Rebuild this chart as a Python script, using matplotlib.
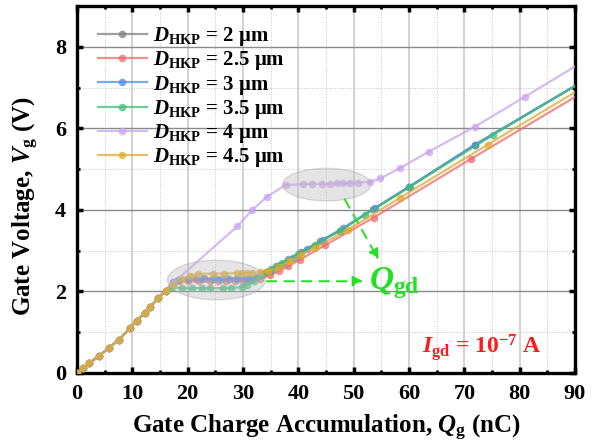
import matplotlib
matplotlib.use("Agg")
import matplotlib.pyplot as plt
from matplotlib.patches import Ellipse
from matplotlib.ticker import MultipleLocator

plt.rcParams['font.family'] = ['Liberation Serif', 'DejaVu Serif']
plt.rcParams['font.weight'] = 'bold'
plt.rcParams['mathtext.fontset'] = 'custom'
plt.rcParams['mathtext.rm'] = 'Liberation Serif:bold'
plt.rcParams['mathtext.it'] = 'Liberation Serif:bold:italic'
plt.rcParams['mathtext.bf'] = 'Liberation Serif:bold'

# ---- data (Qg in nC, Vg in V) ----
rise_x = [0, 1.1, 2.2, 4.0, 5.8, 7.6, 9.6, 10.8, 12.2, 13.2, 14.7, 16.0]
rise_y = [0, 0.12, 0.24, 0.42, 0.62, 0.82, 1.10, 1.28, 1.47, 1.62, 1.83, 2.02]

gray_x = rise_x + [17.3, 18.5, 20.0, 21.5, 23.0, 25.0, 27.0, 29.0, 31.0, 32.5, 34.2, 36.0, 38.2, 40.5, 44.0, 47.5, 53.5, 60.0, 72.0, 92.0]
gray_y = rise_y + [2.20, 2.29, 2.31, 2.31, 2.32, 2.32, 2.32, 2.32, 2.33, 2.36, 2.48, 2.62, 2.79, 2.97, 3.24, 3.49, 4.02, 4.57, 5.60, 7.20]

red_x = rise_x + [17.3, 18.5, 20.0, 22.0, 24.0, 25.5, 27.0, 28.5, 30.0, 31.5, 33.0, 34.8, 36.5, 38.2, 40.3, 44.8, 53.6, 71.2, 92.0]
red_y = rise_y + [2.18, 2.25, 2.25, 2.25, 2.25, 2.25, 2.26, 2.26, 2.26, 2.27, 2.30, 2.40, 2.50, 2.62, 2.78, 3.13, 3.81, 5.25, 6.93]

blue_x = rise_x + [17.3, 18.3, 20.0, 22.5, 24.5, 26.0, 27.5, 29.0, 30.5, 32.0, 33.5, 35.0, 36.7, 39.0, 41.5, 44.4, 48.0, 53.9, 60.0, 71.9, 92.0]
blue_y = rise_y + [2.22, 2.29, 2.30, 2.30, 2.30, 2.30, 2.31, 2.31, 2.31, 2.33, 2.42, 2.53, 2.66, 2.83, 3.03, 3.26, 3.55, 4.04, 4.56, 5.60, 7.20]

green_x = rise_x + [17.1, 18.9, 20.7, 22.5, 24.0, 26.4, 27.9, 29.8, 30.8, 31.9, 33.5, 35.0, 37.0, 40.0, 43.0, 47.5, 52.0, 60.1, 75.2, 92.0]
green_y = rise_y + [2.10, 2.08, 2.08, 2.08, 2.08, 2.08, 2.09, 2.10, 2.17, 2.26, 2.41, 2.54, 2.70, 2.91, 3.15, 3.48, 3.88, 4.56, 5.84, 7.20]

purple_x = rise_x + [17.3, 29.0, 31.6, 34.3, 37.7, 40.9, 42.5, 44.2, 45.7, 46.9, 48.0, 49.3, 50.7, 53.0, 54.8, 58.3, 63.6, 71.9, 81.0, 92.0]
purple_y = rise_y + [2.20, 3.60, 3.99, 4.32, 4.61, 4.63, 4.64, 4.64, 4.64, 4.65, 4.65, 4.66, 4.67, 4.69, 4.77, 5.02, 5.43, 6.04, 6.78, 7.68]

orange_x = rise_x + [17.3, 19.0, 20.5, 21.9, 24.6, 26.5, 28.9, 29.8, 30.8, 31.7, 33.1, 34.6, 36.5, 38.5, 40.5, 43.0, 48.9, 58.3, 74.2, 92.0]
orange_y = rise_y + [2.16, 2.30, 2.38, 2.43, 2.44, 2.44, 2.45, 2.45, 2.45, 2.46, 2.47, 2.49, 2.60, 2.75, 2.90, 3.07, 3.51, 4.29, 5.60, 7.05]

labels = [r'$D_{\rm HKP}$ = 2 μm', r'$D_{\rm HKP}$ = 2.5 μm', r'$D_{\rm HKP}$ = 3 μm',
          r'$D_{\rm HKP}$ = 3.5 μm', r'$D_{\rm HKP}$ = 4 μm', r'$D_{\rm HKP}$ = 4.5 μm']
colors = ['#7f7f7f', '#f06a6a', '#4a8fe7', '#3dbe7a', '#c9a3ee', '#ddaa2c']

xticks = [0, 10, 20, 30, 40, 50, 60, 70, 80, 90]
yticks = [0, 2, 4, 6, 8]

series = [(gray_x, gray_y), (red_x, red_y), (blue_x, blue_y), (green_x, green_y),
          (purple_x, purple_y), (orange_x, orange_y)]

fig = plt.figure(figsize=(6.02, 4.45), dpi=100)
ax = fig.add_axes([77/602, 1-373/445, 498/602, 367/445])

for (xs, ys), c, lab in zip(series, colors, labels):
    ax.plot(xs, ys, '-o', color=c, alpha=0.75, lw=1.6, ms=5.5, mec='none', label=lab, zorder=3)

ax.set_xlim(0, 90)
ax.set_ylim(0, 9)
ax.set_xticks(xticks)
ax.set_yticks(yticks)
ax.xaxis.set_minor_locator(MultipleLocator(5))
ax.yaxis.set_minor_locator(MultipleLocator(1))

ax.grid(True, which='major', axis='y', color='#8a8a8a', lw=1.0, ls='-', zorder=0)
ax.grid(True, which='major', axis='x', color='#d2d2d2', lw=1.4, ls='-', zorder=0)
ax.grid(True, which='minor', axis='both', color='#c4c4c4', lw=0.7, ls=':', zorder=0)
ax.set_axisbelow(True)

for s in ax.spines.values():
    s.set_linewidth(2.4)
ax.tick_params(which='both', direction='in', top=True, right=True, labelsize=16)
ax.tick_params(which='major', length=4, width=2.5, pad=8)
ax.tick_params(which='minor', length=2, width=2)
for t in ax.get_xticklabels() + ax.get_yticklabels():
    t.set_fontweight('bold')

ax.set_xlabel(r'Gate Charge Accumulation, $Q_{\rm g}$ (nC)', fontsize=18, fontweight='bold')
ax.set_ylabel(r'Gate Voltage, $V_{\rm g}$ (V)', fontsize=18, fontweight='bold')
ax.yaxis.set_label_coords(-0.072, 0.455)
ax.xaxis.set_label_coords(0.5, -0.11)

# highlight ellipses
ax.add_patch(Ellipse((25.2, 2.28), 17.7, 0.97, facecolor='#bdbdbd', edgecolor='#a8a8a8',
                     alpha=0.4, lw=1, zorder=4))
ax.add_patch(Ellipse((45.1, 4.62), 15.9, 0.80, facecolor='#bdbdbd', edgecolor='#a8a8a8',
                     alpha=0.4, lw=1, zorder=4))

green = '#22e022'
arrow_kw = dict(arrowstyle='-|>,head_length=0.6,head_width=0.3', color=green, lw=1.4,
                linestyle=(0, (5, 4)), shrinkA=0, shrinkB=0)
ax.annotate('', xy=(51.7, 2.25), xytext=(34.3, 2.25), arrowprops=arrow_kw, zorder=5)
ax.annotate('', xy=(54.5, 2.78), xytext=(48.4, 4.26), arrowprops=arrow_kw, zorder=5)

ax.text(52.8, 2.2, r'$Q_{\rm gd}$', color=green, fontsize=24, ha='left', va='center', zorder=6)
ax.text(62.3, 0.49, r'$I_{\rm gd}$ = 10$^{-7}$ A', color='#ff1a1a', fontsize=17,
        fontweight='bold', ha='left', va='baseline', zorder=6)

leg = ax.legend(loc='upper left', bbox_to_anchor=(0.042, 0.948), frameon=False,
                fontsize=15, borderpad=0, borderaxespad=0, handlelength=2.35,
                handletextpad=0.3, labelspacing=0.06, numpoints=1)
for t in leg.get_texts():
    t.set_fontweight('bold')

fig.savefig('out.png', dpi=100)
